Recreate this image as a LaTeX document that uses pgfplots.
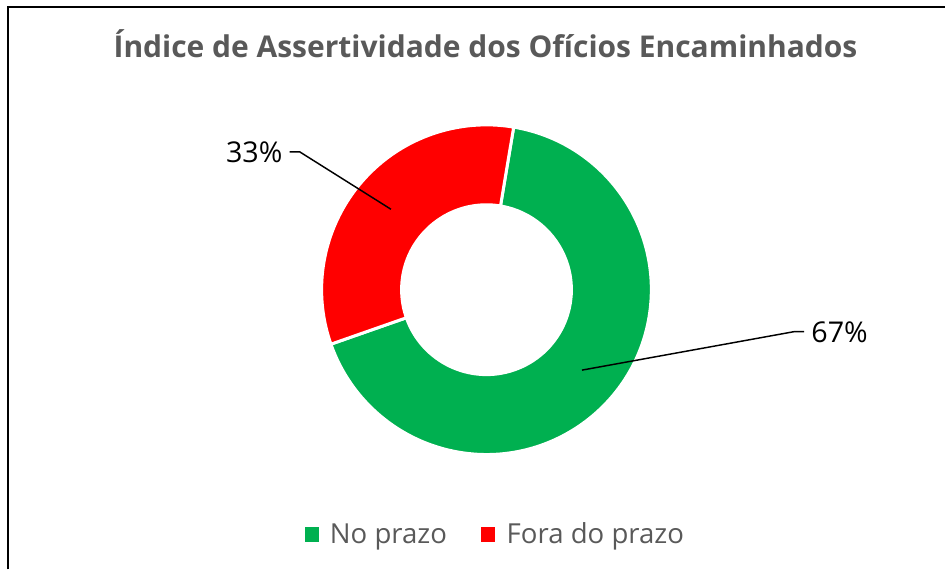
\documentclass[border=0pt]{standalone}
\usepackage{pgfplots}
\pgfplotsset{compat=1.18}
\usepackage{pgfplotstable}
\usepackage{fontspec}
\setmainfont{Open Sans}
\definecolor{noprazo}{HTML}{00B050}
\definecolor{fora}{HTML}{FF0000}
\definecolor{txtgray}{HTML}{595959}

% valores do grafico
\pgfplotstableread{
serie valor
NoPrazo 67
ForaPrazo 33
}\dados
\pgfplotstablegetelem{0}{valor}\of\dados \let\vNo\pgfplotsretval
\pgfplotstablegetelem{1}{valor}\of\dados \let\vFora\pgfplotsretval
\pgfmathsetmacro\tot{\vNo+\vFora}
\pgfmathsetmacro\fNo{\vNo/\tot}
\pgfmathsetmacro\fFora{\vFora/\tot}
\pgfmathsetmacro\aIni{80.5}% primeira fatia girada ~9.5 graus
\pgfmathsetmacro\aMeio{\aIni-360*\fNo}
\pgfmathsetmacro\aFim{\aMeio-360*\fFora}
\pgfmathsetmacro\mNo{\aIni-180*\fNo}
\pgfmathsetmacro\mFora{\aMeio-180*\fFora}
\pgfmathtruncatemacro\pNo{round(100*\fNo)}
\pgfmathtruncatemacro\pFora{round(100*\fFora)}

\begin{document}
\begin{tikzpicture}
\begin{axis}[
  x=0.75pt, y=0.75pt,
  xmin=0, xmax=946, ymin=0, ymax=570,
  hide axis, clip=false, scale only axis,
]
\path (axis cs:0,0) rectangle (axis cs:946,570);
\draw[line width=1.5pt] (axis cs:8,0) -- (axis cs:8,563) -- (axis cs:946,563);

\coordinate (c) at (axis cs:487,280);
% aneis: raio externo 165, interno 85
\filldraw[fill=noprazo, draw=white, line width=2.25pt, shift={(c)}]
  (\aIni:123.75pt) arc[start angle=\aIni, end angle=\aMeio, radius=123.75pt]
  -- (\aMeio:63.75pt) arc[start angle=\aMeio, end angle=\aIni, radius=63.75pt] -- cycle;
\filldraw[fill=fora, draw=white, line width=2.25pt, shift={(c)}]
  (\aMeio:123.75pt) arc[start angle=\aMeio, end angle=\aFim, radius=123.75pt]
  -- (\aFim:63.75pt) arc[start angle=\aFim, end angle=\aMeio, radius=63.75pt] -- cycle;

% rotulos
\draw[line width=1.1pt] ([shift={(c)}]\mFora:93.75pt) -- (axis cs:300,418) -- (axis cs:290,418);
\draw[line width=1.1pt] ([shift={(c)}]\mNo:93.75pt) -- (axis cs:795,238) -- (axis cs:805,238);
\node[anchor=base east, inner sep=0, font=\fontsize{21.5}{26}\selectfont] at (axis cs:283,407) {\pFora\%};
\node[anchor=base west, inner sep=0, font=\fontsize{21.5}{26}\selectfont] at (axis cs:812,227) {\pNo\%};

\node[anchor=base, inner sep=0, text=txtgray, font=\bfseries\fontsize{22.5}{27}\selectfont]
  at (axis cs:486,512) {Índice de Assertividade dos Ofícios Encaminhados};

% legenda
\fill[noprazo] (axis cs:305,27) rectangle (axis cs:319,42);
\fill[fora] (axis cs:482,27) rectangle (axis cs:496,42);
\node[anchor=base west, inner sep=0, text=txtgray, font=\fontsize{20.7}{24}\selectfont] at (axis cs:330,26) {No prazo};
\node[anchor=base west, inner sep=0, text=txtgray, font=\fontsize{20.7}{24}\selectfont] at (axis cs:507,26) {Fora do prazo};
\end{axis}
\end{tikzpicture}
\end{document}
